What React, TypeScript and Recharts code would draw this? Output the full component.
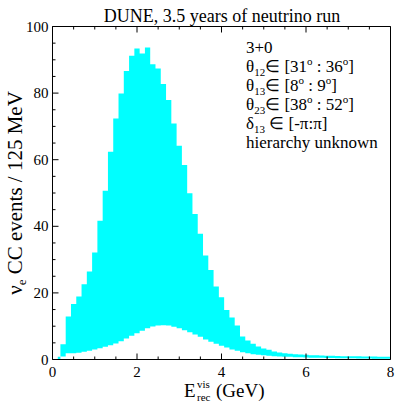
import { ComposedChart, Area, XAxis, YAxis } from "recharts";

const FONT = "'Liberation Serif', 'Times New Roman', serif";
const CYAN = "#00ffff";

// bin centres (GeV), 125 MeV bins
const energy = [
  0.125, 0.25, 0.375, 0.5, 0.625, 0.75, 0.875, 1.0,
  1.125, 1.25, 1.375, 1.5, 1.625, 1.75, 1.875, 2.0,
  2.125, 2.25, 2.375, 2.5, 2.625, 2.75, 2.875, 3.0,
  3.125, 3.25, 3.375, 3.5, 3.625, 3.75, 3.875, 4.0,
  4.125, 4.25, 4.375, 4.5, 4.625, 4.75, 4.875, 5.0,
  5.125, 5.25, 5.375, 5.5, 5.625, 5.75, 5.875, 6.0,
  6.125, 6.25, 6.375, 6.5, 6.625, 6.75, 6.875, 7.0,
  7.125, 7.25, 7.375, 7.5, 7.625, 7.75, 7.875, 8.0,
];

// upper edge of the band (max events per bin)
const upper = [
  0.8, 4.6, 12.9, 16.7, 18.9, 22.6, 26.4, 32.1,
  41.7, 50.7, 62.4, 72.4, 79.9, 86.6, 91.2, 93.4,
  91.9, 93.7, 88.7, 87.4, 82.7, 77.9, 70.9, 64.2,
  58.4, 49.9, 43.7, 37.8, 31.2, 26.9, 21.9, 18.7,
  14.9, 12.6, 10.2, 6.9, 5.7, 4.7, 3.9, 3.3,
  2.9, 2.4, 2.1, 1.9, 1.75, 1.6, 1.5, 1.4,
  1.3, 1.25, 1.2, 1.15, 1.1, 1.05, 1.0, 1.0,
  0.95, 0.95, 0.9, 0.9, 0.9, 0.85, 0.85, 0.8,
];

// lower edge of the band (min events per bin)
const lower = [
  0.1, 0.9, 1.9, 1.9, 2.0, 2.3, 2.6, 3.0,
  3.4, 3.8, 4.3, 4.8, 5.5, 6.3, 7.1, 7.9,
  8.6, 9.4, 9.9, 10.2, 10.3, 10.2, 9.8, 9.4,
  8.8, 8.2, 7.5, 6.8, 6.0, 5.3, 4.7, 4.1,
  3.6, 3.0, 2.6, 2.2, 1.9, 1.6, 1.4, 1.25,
  1.1, 1.0, 0.9, 0.85, 0.8, 0.7, 0.65, 0.6,
  0.55, 0.5, 0.5, 0.45, 0.45, 0.4, 0.4, 0.35,
  0.35, 0.3, 0.3, 0.3, 0.25, 0.25, 0.25, 0.2,
];

const xTicks = [0, 0.5, 1, 1.5, 2, 2.5, 3, 3.5, 4, 4.5, 5, 5.5, 6, 6.5, 7, 7.5, 8];
const xMajor = [0, 2, 4, 6, 8];
const yTicks = [0, 5, 10, 15, 20, 25, 30, 35, 40, 45, 50, 55, 60, 65, 70, 75, 80, 85, 90, 95, 100];
const yMajor = [0, 20, 40, 60, 80, 100];

const data = energy.map((e, i) => ({ e, band: [lower[i], upper[i]] }));

const MAJOR = 6;
const MINOR = 3;

function BottomTick(props: any) {
  const { x, y, payload } = props;
  const major = xMajor.includes(payload.value);
  return (
    <g>
      <line x1={x} x2={x} y1={y} y2={y - (major ? MAJOR : MINOR)} stroke="#000" />
      {major && (
        <text x={x} y={y + 17} textAnchor="middle" fontFamily={FONT} fontSize={15} fill="#000">
          {payload.value}
        </text>
      )}
    </g>
  );
}

function TopTick(props: any) {
  const { x, y, payload } = props;
  const major = xMajor.includes(payload.value);
  return <line x1={x} x2={x} y1={y} y2={y + (major ? MAJOR : MINOR)} stroke="#000" />;
}

function LeftTick(props: any) {
  const { x, y, payload } = props;
  const major = yMajor.includes(payload.value);
  return (
    <g>
      <line x1={x} x2={x + (major ? MAJOR : MINOR)} y1={y} y2={y} stroke="#000" />
      {major && (
        <text x={x - 4} y={y + 5} textAnchor="end" fontFamily={FONT} fontSize={15} fill="#000">
          {payload.value}
        </text>
      )}
    </g>
  );
}

function RightTick(props: any) {
  const { x, y, payload } = props;
  const major = yMajor.includes(payload.value);
  return <line x1={x} x2={x - (major ? MAJOR : MINOR)} y1={y} y2={y} stroke="#000" />;
}

const sub = { fontSize: 11 };
const sup = { fontSize: 11 };

function Texts() {
  return (
    <svg
      width={407}
      height={407}
      style={{ position: "absolute", left: 0, top: 0, pointerEvents: "none" }}
      fontFamily={FONT}
      fill="#000"
    >
      <text x={222} y={22} textAnchor="middle" fontSize={18}>
        DUNE, 3.5 years of neutrino run
      </text>

      <g fontSize={17}>
        <text x={246} y={53}>3+0</text>
        <text x={246} y={72}>
          θ<tspan {...sub} dy={4}>12</tspan>
          <tspan dy={-4}>∈ [31</tspan>
          <tspan {...sup} dy={-7}>o</tspan>
          <tspan dy={7}> : 36</tspan>
          <tspan {...sup} dy={-7}>o</tspan>
          <tspan dy={7}>]</tspan>
        </text>
        <text x={246} y={91}>
          θ<tspan {...sub} dy={4}>13</tspan>
          <tspan dy={-4}>∈ [8</tspan>
          <tspan {...sup} dy={-7}>o</tspan>
          <tspan dy={7}> : 9</tspan>
          <tspan {...sup} dy={-7}>o</tspan>
          <tspan dy={7}>]</tspan>
        </text>
        <text x={246} y={110}>
          θ<tspan {...sub} dy={4}>23</tspan>
          <tspan dy={-4}>∈ [38</tspan>
          <tspan {...sup} dy={-7}>o</tspan>
          <tspan dy={7}> : 52</tspan>
          <tspan {...sup} dy={-7}>o</tspan>
          <tspan dy={7}>]</tspan>
        </text>
        <text x={246} y={129}>
          δ<tspan {...sub} dy={4}>13</tspan>
          <tspan dy={-4}> ∈ [-π:π]</tspan>
        </text>
        <text x={246} y={148}>hierarchy unknown</text>
      </g>

      <g fontSize={19}>
        <text x={184} y={397}>E</text>
        <text x={197} y={388} fontSize={11}>vis</text>
        <text x={197} y={401} fontSize={11}>rec</text>
        <text x={216} y={397}>(GeV)</text>
      </g>

      <text transform="translate(22,193) rotate(-90)" textAnchor="middle" fontSize={21}>
        ν<tspan fontSize={13} dy={4}>e</tspan>
        <tspan dy={-4}> CC events / 125 MeV</tspan>
      </text>
    </svg>
  );
}

export default function App() {
  return (
    <div style={{ position: "absolute", left: 0, top: 0, width: 407, height: 407, background: "#fff" }}>
      <ComposedChart
        width={407}
        height={407}
        data={data}
        margin={{ top: 16.5, right: 6.5, bottom: 27.5, left: 22.5 }}
      >
        <Area
          xAxisId="b"
          yAxisId="l"
          dataKey="band"
          type="step"
          fill={CYAN}
          fillOpacity={1}
          stroke="none"
          isAnimationActive={false}
        />
        <XAxis
          xAxisId="b"
          dataKey="e"
          type="number"
          domain={[0, 8]}
          ticks={xTicks}
          interval={0}
          height={20}
          tickSize={0}
          tickMargin={0}
          tickLine={false}
          axisLine={{ stroke: "#000" }}
          tick={BottomTick}
        />
        <XAxis
          xAxisId="t"
          orientation="top"
          dataKey="e"
          type="number"
          domain={[0, 8]}
          ticks={xTicks}
          interval={0}
          height={10}
          tickSize={0}
          tickMargin={0}
          tickLine={false}
          axisLine={{ stroke: "#000" }}
          tick={TopTick}
        />
        <YAxis
          yAxisId="l"
          type="number"
          domain={[0, 100]}
          ticks={yTicks}
          interval={0}
          width={30}
          tickSize={0}
          tickMargin={0}
          tickLine={false}
          axisLine={{ stroke: "#000" }}
          tick={LeftTick}
        />
        <YAxis
          yAxisId="r"
          orientation="right"
          type="number"
          domain={[0, 100]}
          ticks={yTicks}
          interval={0}
          width={10}
          tickSize={0}
          tickMargin={0}
          tickLine={false}
          axisLine={{ stroke: "#000" }}
          tick={RightTick}
        />
      </ComposedChart>
      <Texts />
    </div>
  );
}
